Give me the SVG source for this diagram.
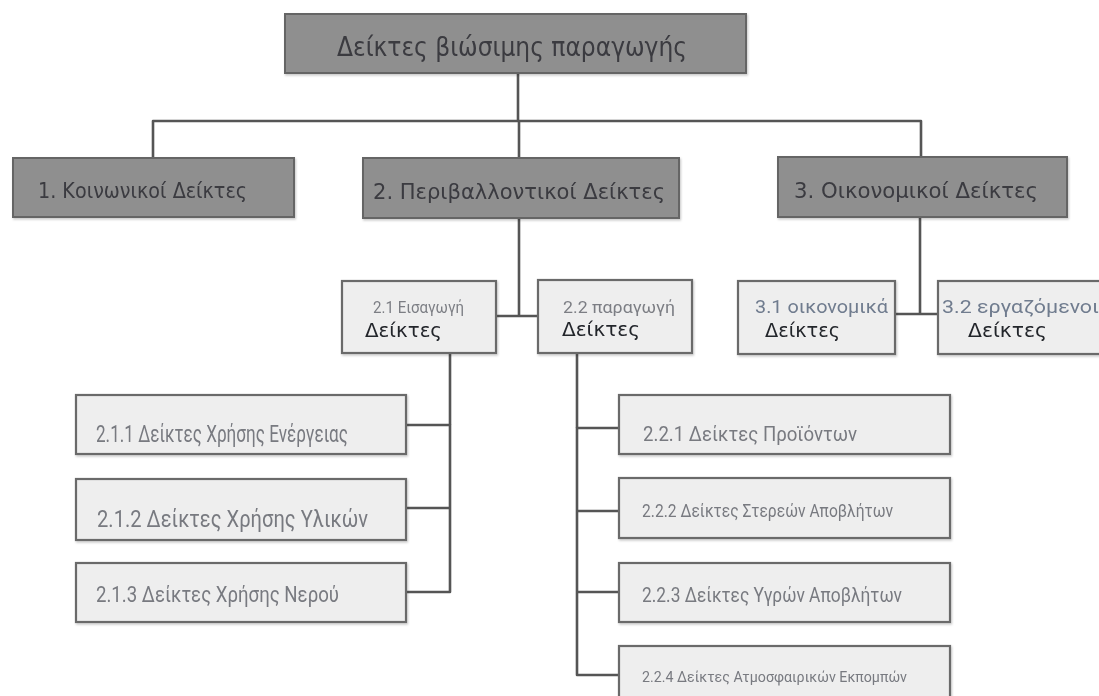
<svg xmlns="http://www.w3.org/2000/svg" width="1099" height="696" viewBox="0 0 1099 696">
  <defs>
    <filter id="soft" x="-5%" y="-10%" width="112%" height="130%">
      <feDropShadow dx="1" dy="1.5" stdDeviation="1.2" flood-color="#000" flood-opacity="0.22"/>
    </filter>
  </defs>
  <style>
    .dark { fill: #8f8f8f; stroke: #656565; stroke-width: 2; }
    .light { fill: #eeeeee; stroke: #6b6b6b; stroke-width: 2.2; }
    .head { font-family: "DejaVu Sans", "Liberation Sans", sans-serif; fill: #3a3a40; }
    .small { font-family: "Roboto", "Liberation Sans", sans-serif; fill: #7c7e84; }
    .label { font-family: "DejaVu Sans", "Liberation Sans", sans-serif; fill: #24262c; }
    .blue { font-family: "Roboto", "Liberation Sans", sans-serif; fill: #6f7b8e; }
    .leaf { font-family: "Roboto", "Liberation Sans", sans-serif; fill: #787a80; }
    .wire { fill: none; stroke: #555; stroke-width: 2.6; stroke-linejoin: round; }
  </style>

  <rect width="1099" height="696" fill="#ffffff"/>

  <!-- connectors -->
  <g id="connectors" class="wire">
    <path d="M518 73 V121"/>
    <path d="M153 158 V121 H921 V157"/>
    <path d="M519 121 V158"/>
    <path d="M519 218 V316"/>
    <path d="M496 316 H538"/>
    <path d="M920 217 V314"/>
    <path d="M895 314 H938"/>
    <path d="M406 425 H450 V592 H406"/>
    <path d="M406 508 H450"/>
    <path d="M619 428 H577 V675 H619"/>
    <path d="M577 353 V428"/>
    <path d="M450 353 V425"/>
    <path d="M577 511 H619"/>
    <path d="M577 592 H619"/>
  </g>

  <!-- root -->
  <g id="root" filter="url(#soft)">
    <rect class="dark" x="285" y="14" width="461" height="59"/>
    <text class="head" x="337" y="56" font-size="26" textLength="350" lengthAdjust="spacingAndGlyphs">Δείκτες βιώσιμης παραγωγής</text>
  </g>

  <!-- first level -->
  <g id="social" filter="url(#soft)">
    <rect class="dark" x="13" y="158" width="281" height="59"/>
    <text class="head" x="38" y="198" font-size="22" textLength="209" lengthAdjust="spacingAndGlyphs">1. Κοινωνικοί Δείκτες</text>
  </g>
  <g id="environmental" filter="url(#soft)">
    <rect class="dark" x="363" y="158" width="316" height="60"/>
    <text class="head" x="373" y="199" font-size="22" textLength="292" lengthAdjust="spacingAndGlyphs">2. Περιβαλλοντικοί Δείκτες</text>
  </g>
  <g id="economic" filter="url(#soft)">
    <rect class="dark" x="778" y="157" width="289" height="60"/>
    <text class="head" x="794" y="198" font-size="22" textLength="244" lengthAdjust="spacingAndGlyphs">3. Οικονομικοί Δείκτες</text>
  </g>

  <!-- second level -->
  <g id="input" filter="url(#soft)">
    <rect class="light" x="342" y="281" width="154" height="72"/>
    <text class="small" x="373" y="313" font-size="16" textLength="91" lengthAdjust="spacingAndGlyphs">2.1 Εισαγωγή</text>
    <text class="label" x="365" y="337" font-size="20" textLength="77" lengthAdjust="spacingAndGlyphs">Δείκτες</text>
  </g>
  <g id="production" filter="url(#soft)">
    <rect class="light" x="538" y="280" width="154" height="73"/>
    <text class="small" x="563" y="313" font-size="16" textLength="112" lengthAdjust="spacingAndGlyphs">2.2 παραγωγή</text>
    <text class="label" x="562" y="336" font-size="20" textLength="78" lengthAdjust="spacingAndGlyphs">Δείκτες</text>
  </g>
  <g id="financial" filter="url(#soft)">
    <rect class="light" x="738" y="281" width="157" height="73"/>
    <text class="blue" x="755" y="313" font-size="19" textLength="133" lengthAdjust="spacingAndGlyphs">3.1 οικονομικά</text>
    <text class="label" x="765" y="337" font-size="20" textLength="75" lengthAdjust="spacingAndGlyphs">Δείκτες</text>
  </g>
  <g id="employees" filter="url(#soft)">
    <rect class="light" x="938" y="281" width="170" height="73"/>
    <text class="blue" x="942" y="313" font-size="19" textLength="157" lengthAdjust="spacingAndGlyphs">3.2 εργαζόμενοι</text>
    <text class="label" x="968" y="337" font-size="20" textLength="79" lengthAdjust="spacingAndGlyphs">Δείκτες</text>
  </g>

  <!-- input indicators -->
  <g id="energy" filter="url(#soft)">
    <rect class="light" x="76" y="395" width="330" height="59"/>
    <text class="leaf" x="96" y="442" font-size="23" textLength="252" lengthAdjust="spacingAndGlyphs">2.1.1 Δείκτες Χρήσης Ενέργειας</text>
  </g>
  <g id="materials" filter="url(#soft)">
    <rect class="light" x="76" y="479" width="330" height="61"/>
    <text class="leaf" x="97" y="527" font-size="23" textLength="271" lengthAdjust="spacingAndGlyphs">2.1.2 Δείκτες Χρήσης Υλικών</text>
  </g>
  <g id="water" filter="url(#soft)">
    <rect class="light" x="76" y="563" width="330" height="59"/>
    <text class="leaf" x="96" y="602" font-size="22" textLength="243" lengthAdjust="spacingAndGlyphs">2.1.3 Δείκτες Χρήσης Νερού</text>
  </g>

  <!-- production indicators -->
  <g id="products" filter="url(#soft)">
    <rect class="light" x="619" y="395" width="331" height="59"/>
    <text class="leaf" x="643" y="441" font-size="21" textLength="214" lengthAdjust="spacingAndGlyphs">2.2.1 Δείκτες Προϊόντων</text>
  </g>
  <g id="solid-waste" filter="url(#soft)">
    <rect class="light" x="619" y="478" width="331" height="60"/>
    <text class="leaf" x="642" y="517" font-size="18" textLength="251" lengthAdjust="spacingAndGlyphs">2.2.2 Δείκτες Στερεών Αποβλήτων</text>
  </g>
  <g id="liquid-waste" filter="url(#soft)">
    <rect class="light" x="619" y="563" width="331" height="59"/>
    <text class="leaf" x="642" y="602" font-size="20" textLength="260" lengthAdjust="spacingAndGlyphs">2.2.3 Δείκτες Υγρών Αποβλήτων</text>
  </g>
  <g id="emissions" filter="url(#soft)">
    <rect class="light" x="619" y="646" width="331" height="60"/>
    <text class="leaf" x="642" y="682" font-size="15" textLength="265" lengthAdjust="spacingAndGlyphs">2.2.4 Δείκτες Ατμοσφαιρικών Εκπομπών</text>
  </g>
</svg>
